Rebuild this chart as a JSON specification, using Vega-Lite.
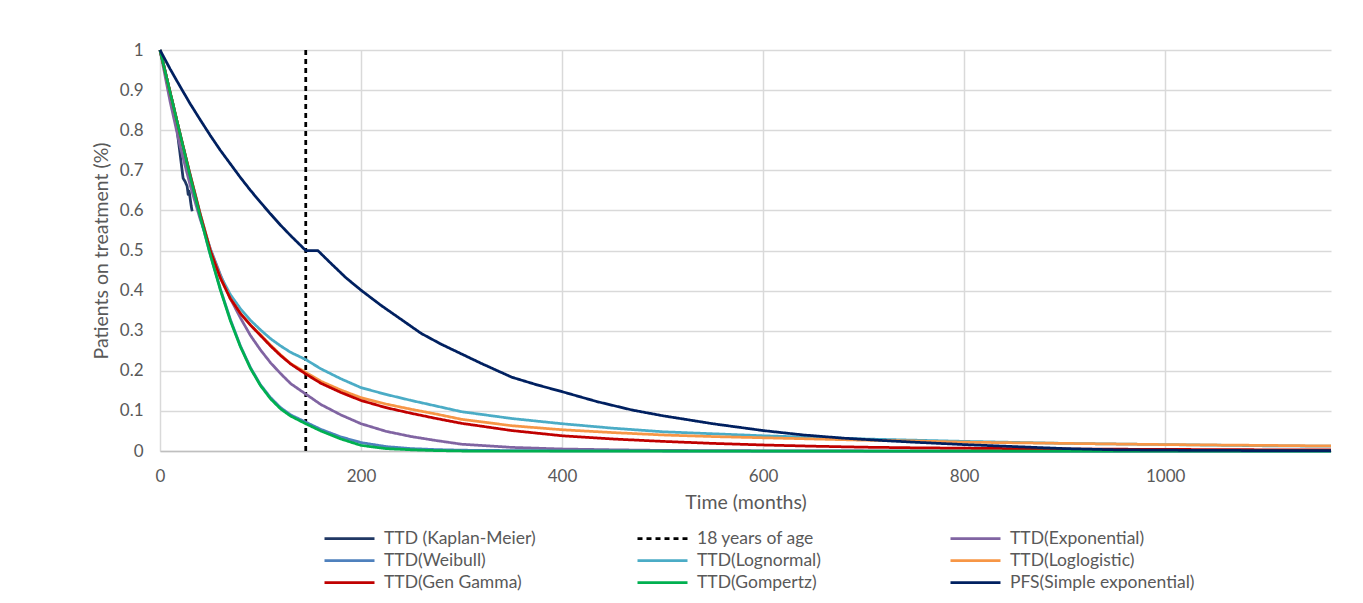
{
  "$schema": "https://vega.github.io/schema/vega-lite/v6.json",
  "autosize": {"type": "none"},
  "padding": {"left": 160, "top": 50, "right": 32, "bottom": 152},
  "width": 1171,
  "height": 401,
  "background": "white",
  "config": {
    "font": "Lato",
    "view": {"stroke": null},
    "axis": {"labelColor": "#595959", "titleColor": "#595959", "labelFontSize": 17, "titleFontSize": 19.5, "titleFontWeight": "normal", "gridColor": "#D9D9D9", "gridWidth": 1.5, "ticks": false, "labelFlush": false}
  },
  "data": {"values": [
    {"series":"TTD (Kaplan-Meier)","month":0,"value":1},
    {"series":"TTD (Kaplan-Meier)","month":4,"value":0.96},
    {"series":"TTD (Kaplan-Meier)","month":8,"value":0.915},
    {"series":"TTD (Kaplan-Meier)","month":11,"value":0.88},
    {"series":"TTD (Kaplan-Meier)","month":12,"value":0.875},
    {"series":"TTD (Kaplan-Meier)","month":13,"value":0.865},
    {"series":"TTD (Kaplan-Meier)","month":15,"value":0.835},
    {"series":"TTD (Kaplan-Meier)","month":17,"value":0.8},
    {"series":"TTD (Kaplan-Meier)","month":19,"value":0.76},
    {"series":"TTD (Kaplan-Meier)","month":21,"value":0.72},
    {"series":"TTD (Kaplan-Meier)","month":23,"value":0.68},
    {"series":"TTD (Kaplan-Meier)","month":25,"value":0.672},
    {"series":"TTD (Kaplan-Meier)","month":27,"value":0.66},
    {"series":"TTD (Kaplan-Meier)","month":28,"value":0.64},
    {"series":"TTD (Kaplan-Meier)","month":29,"value":0.648},
    {"series":"TTD (Kaplan-Meier)","month":30,"value":0.63},
    {"series":"TTD (Kaplan-Meier)","month":31,"value":0.612},
    {"series":"TTD (Kaplan-Meier)","month":32,"value":0.598},
    {"series":"18 years of age","month":145,"value":0},
    {"series":"18 years of age","month":145,"value":1},
    {"series":"TTD(Exponential)","month":0,"value":1},
    {"series":"TTD(Exponential)","month":10,"value":0.872},
    {"series":"TTD(Exponential)","month":20,"value":0.76},
    {"series":"TTD(Exponential)","month":30,"value":0.663},
    {"series":"TTD(Exponential)","month":40,"value":0.578},
    {"series":"TTD(Exponential)","month":50,"value":0.505},
    {"series":"TTD(Exponential)","month":60,"value":0.44},
    {"series":"TTD(Exponential)","month":70,"value":0.38},
    {"series":"TTD(Exponential)","month":80,"value":0.332},
    {"series":"TTD(Exponential)","month":90,"value":0.288},
    {"series":"TTD(Exponential)","month":100,"value":0.252},
    {"series":"TTD(Exponential)","month":110,"value":0.22},
    {"series":"TTD(Exponential)","month":120,"value":0.193},
    {"series":"TTD(Exponential)","month":130,"value":0.168},
    {"series":"TTD(Exponential)","month":145,"value":0.142},
    {"series":"TTD(Exponential)","month":160,"value":0.116},
    {"series":"TTD(Exponential)","month":180,"value":0.09},
    {"series":"TTD(Exponential)","month":200,"value":0.068},
    {"series":"TTD(Exponential)","month":225,"value":0.049},
    {"series":"TTD(Exponential)","month":250,"value":0.036},
    {"series":"TTD(Exponential)","month":275,"value":0.026},
    {"series":"TTD(Exponential)","month":300,"value":0.017},
    {"series":"TTD(Exponential)","month":350,"value":0.009},
    {"series":"TTD(Exponential)","month":400,"value":0.005},
    {"series":"TTD(Exponential)","month":450,"value":0.003},
    {"series":"TTD(Exponential)","month":500,"value":0.0015},
    {"series":"TTD(Exponential)","month":600,"value":0.0005},
    {"series":"TTD(Exponential)","month":700,"value":0},
    {"series":"TTD(Exponential)","month":1165,"value":0},
    {"series":"TTD(Weibull)","month":0,"value":1},
    {"series":"TTD(Weibull)","month":10,"value":0.895},
    {"series":"TTD(Weibull)","month":20,"value":0.79},
    {"series":"TTD(Weibull)","month":30,"value":0.685},
    {"series":"TTD(Weibull)","month":40,"value":0.585},
    {"series":"TTD(Weibull)","month":50,"value":0.49},
    {"series":"TTD(Weibull)","month":60,"value":0.405},
    {"series":"TTD(Weibull)","month":70,"value":0.328},
    {"series":"TTD(Weibull)","month":80,"value":0.262},
    {"series":"TTD(Weibull)","month":90,"value":0.208},
    {"series":"TTD(Weibull)","month":100,"value":0.165},
    {"series":"TTD(Weibull)","month":110,"value":0.133},
    {"series":"TTD(Weibull)","month":120,"value":0.108},
    {"series":"TTD(Weibull)","month":130,"value":0.09},
    {"series":"TTD(Weibull)","month":145,"value":0.072},
    {"series":"TTD(Weibull)","month":160,"value":0.054},
    {"series":"TTD(Weibull)","month":180,"value":0.035},
    {"series":"TTD(Weibull)","month":200,"value":0.021},
    {"series":"TTD(Weibull)","month":225,"value":0.011},
    {"series":"TTD(Weibull)","month":250,"value":0.006},
    {"series":"TTD(Weibull)","month":275,"value":0.0035},
    {"series":"TTD(Weibull)","month":300,"value":0.002},
    {"series":"TTD(Weibull)","month":350,"value":0.001},
    {"series":"TTD(Weibull)","month":400,"value":0.0005},
    {"series":"TTD(Weibull)","month":500,"value":0},
    {"series":"TTD(Weibull)","month":1165,"value":0},
    {"series":"TTD(Lognormal)","month":0,"value":1},
    {"series":"TTD(Lognormal)","month":10,"value":0.895},
    {"series":"TTD(Lognormal)","month":20,"value":0.79},
    {"series":"TTD(Lognormal)","month":30,"value":0.69},
    {"series":"TTD(Lognormal)","month":40,"value":0.592},
    {"series":"TTD(Lognormal)","month":50,"value":0.503},
    {"series":"TTD(Lognormal)","month":60,"value":0.437},
    {"series":"TTD(Lognormal)","month":70,"value":0.39},
    {"series":"TTD(Lognormal)","month":80,"value":0.355},
    {"series":"TTD(Lognormal)","month":90,"value":0.326},
    {"series":"TTD(Lognormal)","month":100,"value":0.302},
    {"series":"TTD(Lognormal)","month":110,"value":0.28},
    {"series":"TTD(Lognormal)","month":120,"value":0.262},
    {"series":"TTD(Lognormal)","month":130,"value":0.246},
    {"series":"TTD(Lognormal)","month":145,"value":0.228},
    {"series":"TTD(Lognormal)","month":160,"value":0.205},
    {"series":"TTD(Lognormal)","month":180,"value":0.18},
    {"series":"TTD(Lognormal)","month":200,"value":0.158},
    {"series":"TTD(Lognormal)","month":225,"value":0.141},
    {"series":"TTD(Lognormal)","month":250,"value":0.126},
    {"series":"TTD(Lognormal)","month":275,"value":0.112},
    {"series":"TTD(Lognormal)","month":300,"value":0.098},
    {"series":"TTD(Lognormal)","month":350,"value":0.081},
    {"series":"TTD(Lognormal)","month":400,"value":0.068},
    {"series":"TTD(Lognormal)","month":450,"value":0.057},
    {"series":"TTD(Lognormal)","month":500,"value":0.048},
    {"series":"TTD(Lognormal)","month":550,"value":0.043},
    {"series":"TTD(Lognormal)","month":600,"value":0.038},
    {"series":"TTD(Lognormal)","month":650,"value":0.034},
    {"series":"TTD(Lognormal)","month":700,"value":0.03},
    {"series":"TTD(Lognormal)","month":750,"value":0.027},
    {"series":"TTD(Lognormal)","month":800,"value":0.024},
    {"series":"TTD(Lognormal)","month":900,"value":0.019},
    {"series":"TTD(Lognormal)","month":1000,"value":0.016},
    {"series":"TTD(Lognormal)","month":1100,"value":0.013},
    {"series":"TTD(Lognormal)","month":1165,"value":0.012},
    {"series":"TTD(Loglogistic)","month":0,"value":1},
    {"series":"TTD(Loglogistic)","month":10,"value":0.895},
    {"series":"TTD(Loglogistic)","month":20,"value":0.79},
    {"series":"TTD(Loglogistic)","month":30,"value":0.688},
    {"series":"TTD(Loglogistic)","month":40,"value":0.59},
    {"series":"TTD(Loglogistic)","month":50,"value":0.5},
    {"series":"TTD(Loglogistic)","month":60,"value":0.432},
    {"series":"TTD(Loglogistic)","month":70,"value":0.38},
    {"series":"TTD(Loglogistic)","month":80,"value":0.343},
    {"series":"TTD(Loglogistic)","month":90,"value":0.314},
    {"series":"TTD(Loglogistic)","month":100,"value":0.29},
    {"series":"TTD(Loglogistic)","month":110,"value":0.264},
    {"series":"TTD(Loglogistic)","month":120,"value":0.24},
    {"series":"TTD(Loglogistic)","month":130,"value":0.218},
    {"series":"TTD(Loglogistic)","month":145,"value":0.196},
    {"series":"TTD(Loglogistic)","month":160,"value":0.174},
    {"series":"TTD(Loglogistic)","month":180,"value":0.152},
    {"series":"TTD(Loglogistic)","month":200,"value":0.133},
    {"series":"TTD(Loglogistic)","month":225,"value":0.117},
    {"series":"TTD(Loglogistic)","month":250,"value":0.104},
    {"series":"TTD(Loglogistic)","month":275,"value":0.092},
    {"series":"TTD(Loglogistic)","month":300,"value":0.079},
    {"series":"TTD(Loglogistic)","month":350,"value":0.063},
    {"series":"TTD(Loglogistic)","month":400,"value":0.053},
    {"series":"TTD(Loglogistic)","month":450,"value":0.046},
    {"series":"TTD(Loglogistic)","month":500,"value":0.04},
    {"series":"TTD(Loglogistic)","month":550,"value":0.036},
    {"series":"TTD(Loglogistic)","month":600,"value":0.033},
    {"series":"TTD(Loglogistic)","month":650,"value":0.03},
    {"series":"TTD(Loglogistic)","month":700,"value":0.027},
    {"series":"TTD(Loglogistic)","month":750,"value":0.025},
    {"series":"TTD(Loglogistic)","month":800,"value":0.022},
    {"series":"TTD(Loglogistic)","month":900,"value":0.019},
    {"series":"TTD(Loglogistic)","month":1000,"value":0.016},
    {"series":"TTD(Loglogistic)","month":1100,"value":0.014},
    {"series":"TTD(Loglogistic)","month":1165,"value":0.0125},
    {"series":"TTD(Gen Gamma)","month":0,"value":1},
    {"series":"TTD(Gen Gamma)","month":10,"value":0.895},
    {"series":"TTD(Gen Gamma)","month":20,"value":0.79},
    {"series":"TTD(Gen Gamma)","month":30,"value":0.688},
    {"series":"TTD(Gen Gamma)","month":40,"value":0.59},
    {"series":"TTD(Gen Gamma)","month":50,"value":0.5},
    {"series":"TTD(Gen Gamma)","month":60,"value":0.432},
    {"series":"TTD(Gen Gamma)","month":70,"value":0.38},
    {"series":"TTD(Gen Gamma)","month":80,"value":0.343},
    {"series":"TTD(Gen Gamma)","month":90,"value":0.314},
    {"series":"TTD(Gen Gamma)","month":100,"value":0.288},
    {"series":"TTD(Gen Gamma)","month":110,"value":0.262},
    {"series":"TTD(Gen Gamma)","month":120,"value":0.238},
    {"series":"TTD(Gen Gamma)","month":130,"value":0.217},
    {"series":"TTD(Gen Gamma)","month":145,"value":0.192},
    {"series":"TTD(Gen Gamma)","month":160,"value":0.169},
    {"series":"TTD(Gen Gamma)","month":180,"value":0.146},
    {"series":"TTD(Gen Gamma)","month":200,"value":0.126},
    {"series":"TTD(Gen Gamma)","month":225,"value":0.108},
    {"series":"TTD(Gen Gamma)","month":250,"value":0.094},
    {"series":"TTD(Gen Gamma)","month":275,"value":0.081},
    {"series":"TTD(Gen Gamma)","month":300,"value":0.069},
    {"series":"TTD(Gen Gamma)","month":350,"value":0.051},
    {"series":"TTD(Gen Gamma)","month":400,"value":0.038},
    {"series":"TTD(Gen Gamma)","month":450,"value":0.03},
    {"series":"TTD(Gen Gamma)","month":500,"value":0.024},
    {"series":"TTD(Gen Gamma)","month":550,"value":0.019},
    {"series":"TTD(Gen Gamma)","month":600,"value":0.015},
    {"series":"TTD(Gen Gamma)","month":650,"value":0.012},
    {"series":"TTD(Gen Gamma)","month":700,"value":0.0095},
    {"series":"TTD(Gen Gamma)","month":750,"value":0.008},
    {"series":"TTD(Gen Gamma)","month":800,"value":0.007},
    {"series":"TTD(Gen Gamma)","month":900,"value":0.005},
    {"series":"TTD(Gen Gamma)","month":1000,"value":0.004},
    {"series":"TTD(Gen Gamma)","month":1100,"value":0.003},
    {"series":"TTD(Gen Gamma)","month":1165,"value":0.003},
    {"series":"TTD(Gompertz)","month":0,"value":1},
    {"series":"TTD(Gompertz)","month":10,"value":0.895},
    {"series":"TTD(Gompertz)","month":20,"value":0.79},
    {"series":"TTD(Gompertz)","month":30,"value":0.685},
    {"series":"TTD(Gompertz)","month":40,"value":0.585},
    {"series":"TTD(Gompertz)","month":50,"value":0.49},
    {"series":"TTD(Gompertz)","month":60,"value":0.402},
    {"series":"TTD(Gompertz)","month":70,"value":0.325},
    {"series":"TTD(Gompertz)","month":80,"value":0.26},
    {"series":"TTD(Gompertz)","month":90,"value":0.206},
    {"series":"TTD(Gompertz)","month":100,"value":0.163},
    {"series":"TTD(Gompertz)","month":110,"value":0.13},
    {"series":"TTD(Gompertz)","month":120,"value":0.105},
    {"series":"TTD(Gompertz)","month":130,"value":0.087},
    {"series":"TTD(Gompertz)","month":145,"value":0.068},
    {"series":"TTD(Gompertz)","month":160,"value":0.05},
    {"series":"TTD(Gompertz)","month":180,"value":0.03},
    {"series":"TTD(Gompertz)","month":200,"value":0.014},
    {"series":"TTD(Gompertz)","month":225,"value":0.006},
    {"series":"TTD(Gompertz)","month":250,"value":0.003},
    {"series":"TTD(Gompertz)","month":275,"value":0.001},
    {"series":"TTD(Gompertz)","month":300,"value":0},
    {"series":"TTD(Gompertz)","month":1165,"value":0},
    {"series":"PFS(Simple exponential)","month":0,"value":1},
    {"series":"PFS(Simple exponential)","month":10,"value":0.953},
    {"series":"PFS(Simple exponential)","month":20,"value":0.909},
    {"series":"PFS(Simple exponential)","month":30,"value":0.866},
    {"series":"PFS(Simple exponential)","month":40,"value":0.826},
    {"series":"PFS(Simple exponential)","month":50,"value":0.787},
    {"series":"PFS(Simple exponential)","month":60,"value":0.75},
    {"series":"PFS(Simple exponential)","month":70,"value":0.716},
    {"series":"PFS(Simple exponential)","month":80,"value":0.682},
    {"series":"PFS(Simple exponential)","month":90,"value":0.65},
    {"series":"PFS(Simple exponential)","month":100,"value":0.62},
    {"series":"PFS(Simple exponential)","month":110,"value":0.591},
    {"series":"PFS(Simple exponential)","month":120,"value":0.563},
    {"series":"PFS(Simple exponential)","month":130,"value":0.537},
    {"series":"PFS(Simple exponential)","month":145,"value":0.5},
    {"series":"PFS(Simple exponential)","month":157,"value":0.5},
    {"series":"PFS(Simple exponential)","month":170,"value":0.468},
    {"series":"PFS(Simple exponential)","month":185,"value":0.432},
    {"series":"PFS(Simple exponential)","month":200,"value":0.401},
    {"series":"PFS(Simple exponential)","month":220,"value":0.363},
    {"series":"PFS(Simple exponential)","month":240,"value":0.328},
    {"series":"PFS(Simple exponential)","month":260,"value":0.293},
    {"series":"PFS(Simple exponential)","month":280,"value":0.266},
    {"series":"PFS(Simple exponential)","month":300,"value":0.242},
    {"series":"PFS(Simple exponential)","month":320,"value":0.218},
    {"series":"PFS(Simple exponential)","month":350,"value":0.184},
    {"series":"PFS(Simple exponential)","month":375,"value":0.165},
    {"series":"PFS(Simple exponential)","month":400,"value":0.148},
    {"series":"PFS(Simple exponential)","month":435,"value":0.123},
    {"series":"PFS(Simple exponential)","month":470,"value":0.102},
    {"series":"PFS(Simple exponential)","month":500,"value":0.088},
    {"series":"PFS(Simple exponential)","month":550,"value":0.068},
    {"series":"PFS(Simple exponential)","month":600,"value":0.051},
    {"series":"PFS(Simple exponential)","month":640,"value":0.04},
    {"series":"PFS(Simple exponential)","month":680,"value":0.032},
    {"series":"PFS(Simple exponential)","month":720,"value":0.026},
    {"series":"PFS(Simple exponential)","month":750,"value":0.022},
    {"series":"PFS(Simple exponential)","month":800,"value":0.016},
    {"series":"PFS(Simple exponential)","month":850,"value":0.011},
    {"series":"PFS(Simple exponential)","month":900,"value":0.006},
    {"series":"PFS(Simple exponential)","month":950,"value":0.003},
    {"series":"PFS(Simple exponential)","month":1000,"value":0.002},
    {"series":"PFS(Simple exponential)","month":1100,"value":0.001},
    {"series":"PFS(Simple exponential)","month":1165,"value":0.001}
  ]},
  "mark": {"type": "line", "strokeCap": "butt", "strokeJoin": "round"},
  "encoding": {
    "x": {"field": "month", "type": "quantitative", "scale": {"domain": [0, 1165], "nice": false},
      "axis": {"values": [0, 200, 400, 600, 800, 1000], "format": "d", "title": "Time (months)", "labelPadding": 17, "titlePadding": 9, "domainColor": "#BFBFBF", "domainWidth": 1.5}},
    "y": {"field": "value", "type": "quantitative", "scale": {"domain": [0, 1], "nice": false},
      "axis": {"values": [0, 0.1, 0.2, 0.3, 0.4, 0.5, 0.6, 0.7, 0.8, 0.9, 1], "format": "~g", "title": "Patients on treatment (%)", "labelPadding": 17, "titlePadding": 8, "domain": false}},
    "color": {"field": "series", "type": "nominal", "title": null,
      "scale": {"domain": ["TTD (Kaplan-Meier)", "TTD(Weibull)", "TTD(Gen Gamma)", "18 years of age", "TTD(Lognormal)", "TTD(Gompertz)", "TTD(Exponential)", "TTD(Loglogistic)", "PFS(Simple exponential)"],
        "range": ["#203864", "#4F81BD", "#C00000", "#000000", "#4BACC6", "#00B050", "#8064A2", "#F79646", "#002060"]},
      "legend": {"orient": "none", "legendX": 178, "legendY": 477, "columns": 3, "gridAlign": "all", "columnPadding": 63, "rowPadding": 2, "symbolType": "M-2.5,0H2.5", "symbolSize": 400, "symbolStrokeWidth": 3, "labelFontSize": 17.5, "labelColor": "#595959", "labelOffset": 23, "labelFont": "Lato", "labelLimit": 300}},
    "strokeDash": {"field": "series", "type": "nominal", "title": null,
      "scale": {"domain": ["TTD (Kaplan-Meier)", "TTD(Weibull)", "TTD(Gen Gamma)", "18 years of age", "TTD(Lognormal)", "TTD(Gompertz)", "TTD(Exponential)", "TTD(Loglogistic)", "PFS(Simple exponential)"],
        "range": [[1, 0], [1, 0], [1, 0], [5, 4], [1, 0], [1, 0], [1, 0], [1, 0], [1, 0]]},
      "legend": {"orient": "none", "legendX": 178, "legendY": 477, "columns": 3, "gridAlign": "all", "columnPadding": 63, "rowPadding": 2, "symbolType": "M-2.5,0H2.5", "symbolSize": 400, "symbolStrokeWidth": 3, "labelFontSize": 17.5, "labelColor": "#595959", "labelOffset": 23, "labelFont": "Lato", "labelLimit": 300}},
    "strokeWidth": {"field": "series", "type": "nominal", "legend": null,
      "scale": {"domain": ["TTD (Kaplan-Meier)", "TTD(Weibull)", "TTD(Gen Gamma)", "18 years of age", "TTD(Lognormal)", "TTD(Gompertz)", "TTD(Exponential)", "TTD(Loglogistic)", "PFS(Simple exponential)"],
        "range": [2.75, 2.75, 2.75, 2, 2.75, 2.75, 2.75, 2.75, 2.75]}}
  }
}
